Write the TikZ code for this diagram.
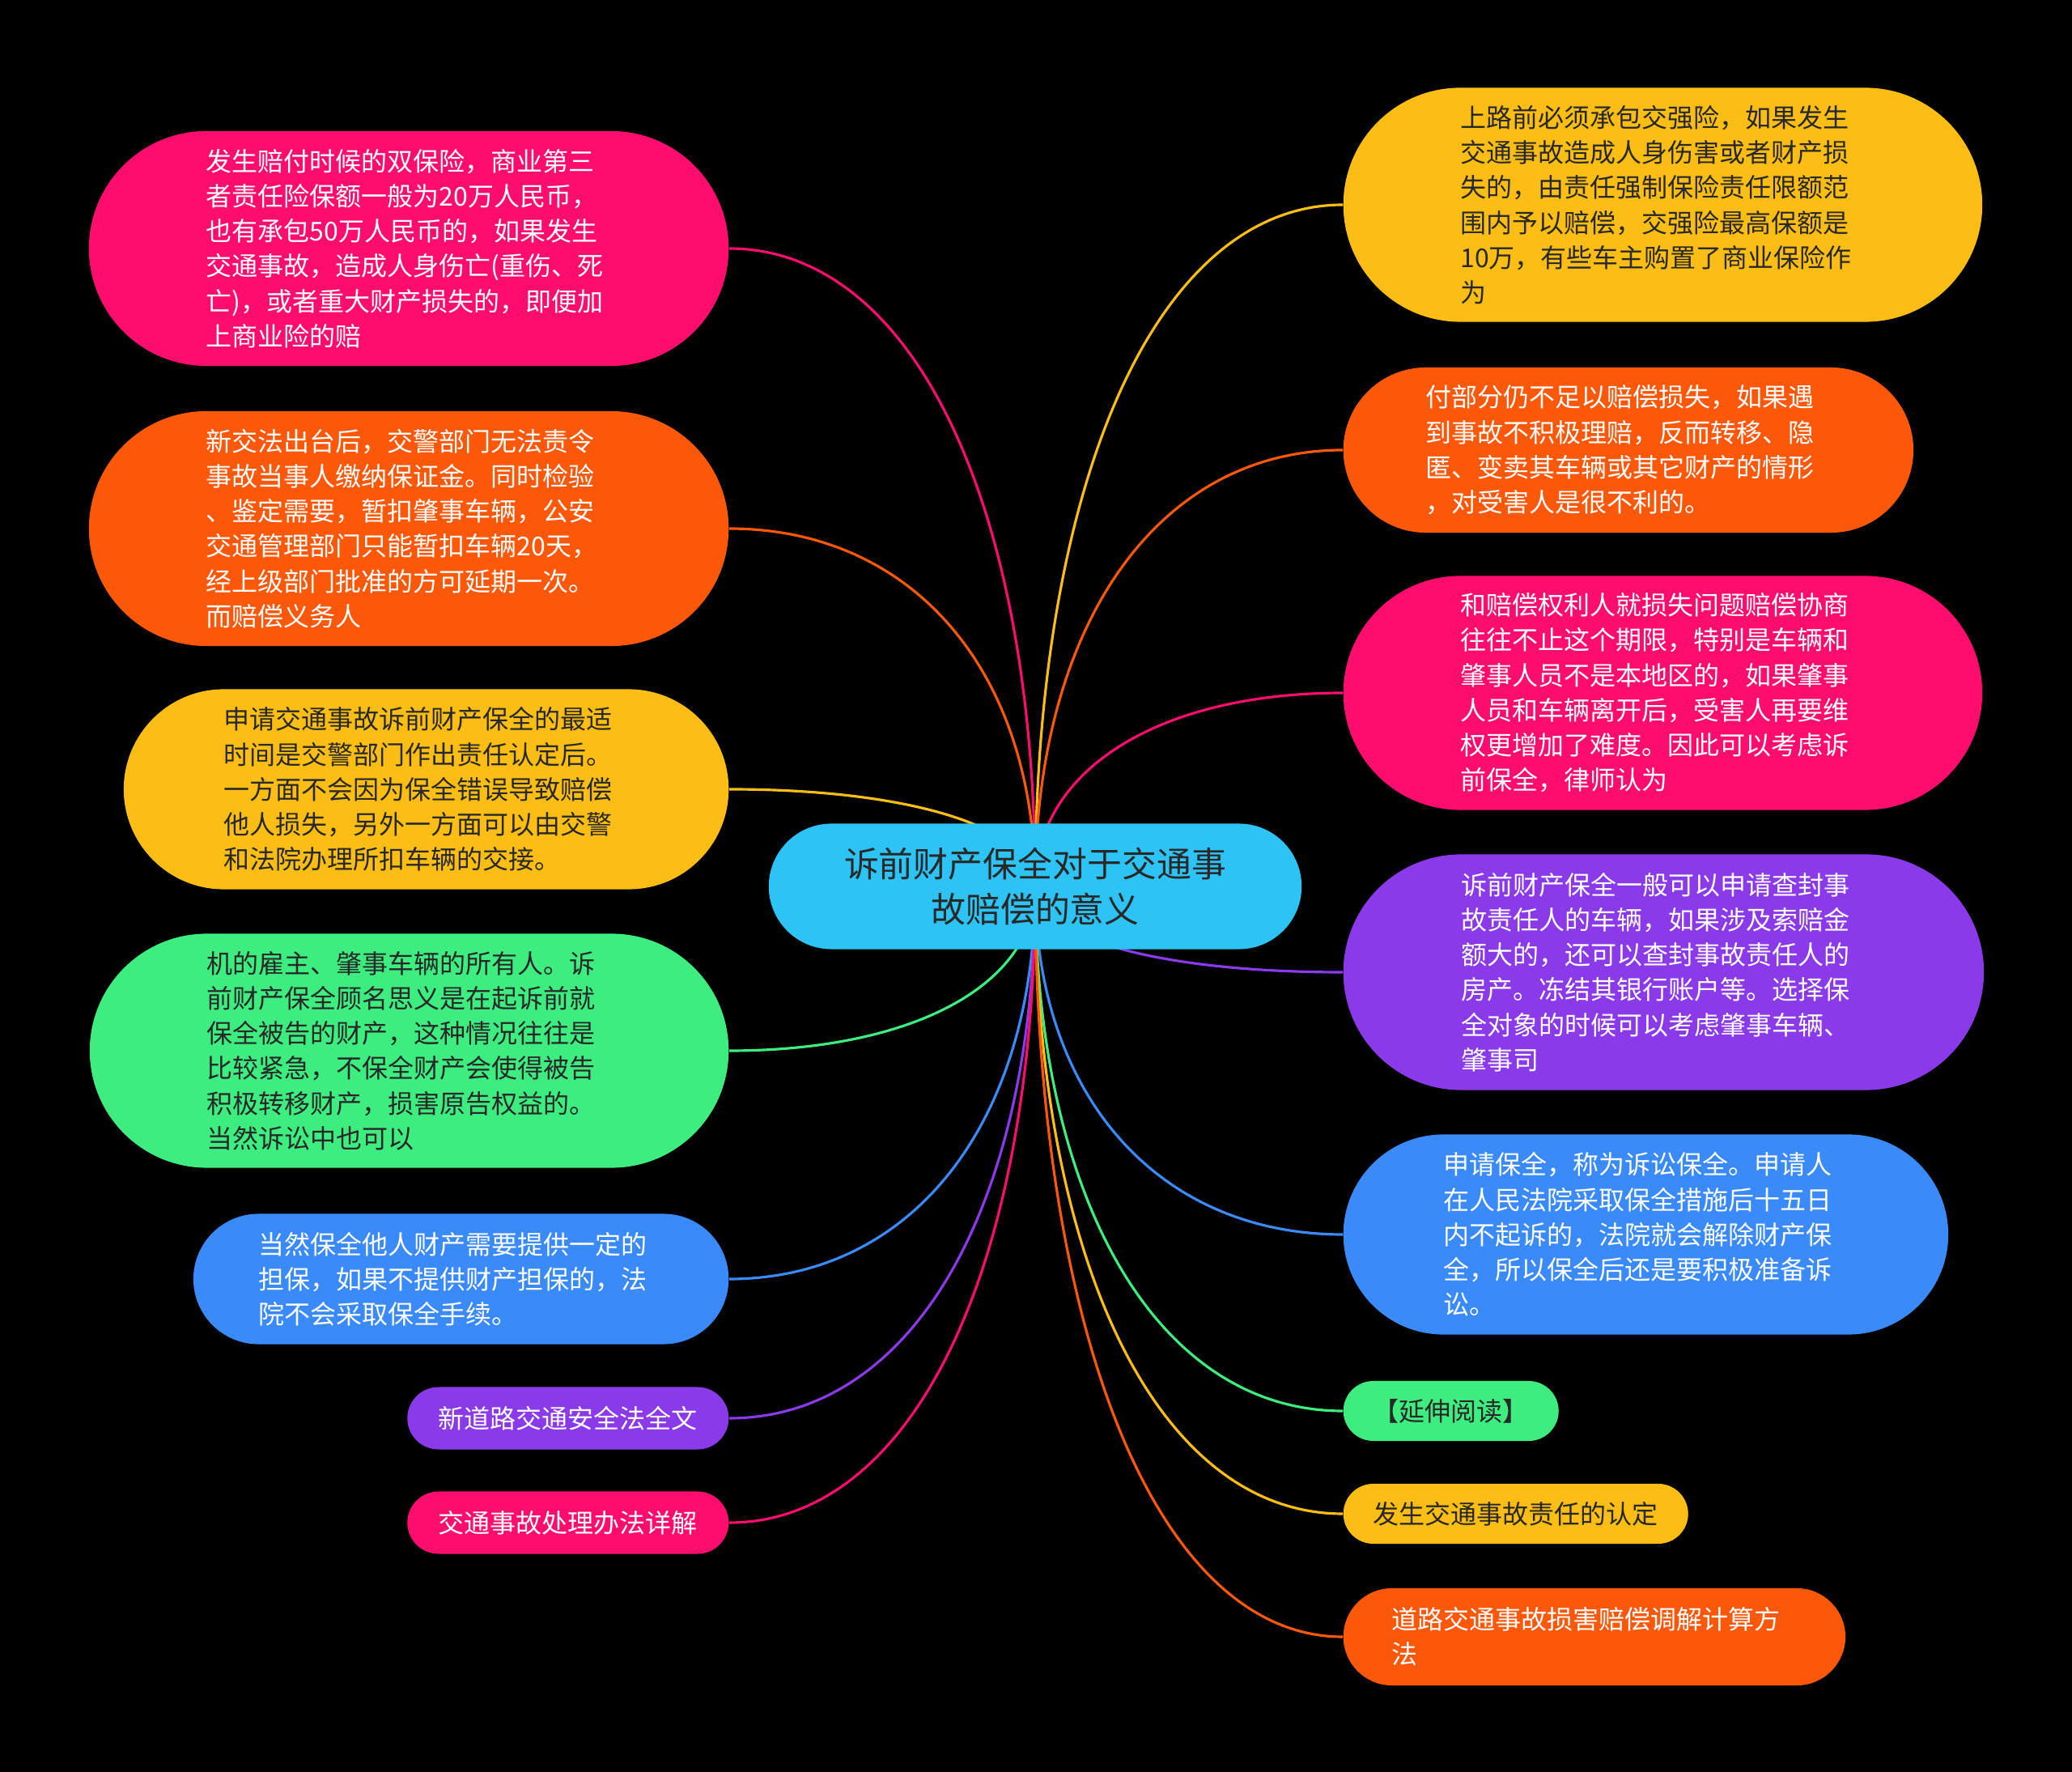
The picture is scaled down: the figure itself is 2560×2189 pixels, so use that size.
\documentclass[tikz,border=0pt]{standalone}
\usepackage{fontspec}
\newfontfamily\cjk{Noto Sans CJK SC}
\usetikzlibrary{calc,positioning}
\definecolor{mPink}{RGB}{252,13,110}
\definecolor{mOrange}{RGB}{252,88,10}
\definecolor{mYellow}{RGB}{252,190,20}
\definecolor{mGreen}{RGB}{62,237,128}
\definecolor{mBlue}{RGB}{58,138,250}
\definecolor{mPurple}{RGB}{138,58,232}
\definecolor{mCyan}{RGB}{45,196,245}
\definecolor{txtdark}{RGB}{40,40,40}
\pgfdeclarelayer{bg}
\pgfdeclarelayer{wires}
\pgfsetlayers{bg,wires,main}
\newcommand\leaffont{\cjk\fontsize{9.1pt}{12.3pt}\selectfont}
\newcommand\topicfont{\cjk\fontsize{12.2pt}{15.8pt}\selectfont}
\tikzset{
  leaf/.style={rectangle, align=left, inner ysep=0pt, font=\leaffont},
  pill/.style 2 args={minimum height=#1cm, rounded corners=#2cm, inner xsep=#2cm},
  wide/.style={text width=5cm},
  link/.style={line width=0.9pt},
}

\begin{document}
\begin{tikzpicture}[x=0.01cm, y=-0.01cm]
    \useasboundingbox (0,0) rectangle (2560,2189);
    \begin{pgfonlayer}{bg}
      \fill[black] (0,0) rectangle (2560,2189);
    \end{pgfonlayer}
    % Central topic
    \node[rectangle, fill=mCyan, text=txtdark, font=\topicfont, align=center,
          minimum width=6.58cm, minimum height=1.55cm, rounded corners=0.775cm] (topic)
          at (1279,1095) {诉前财产保全对于交通事\\故赔偿的意义};
    % Left branches
    \node[leaf, wide, pill={2.9}{1.45}, fill=mPink, text=white, anchor=east] (L1) at (901,307)
      {发生赔付时候的双保险，商业第三\\者责任险保额一般为20万人民币，\\也有承包50万人民币的，如果发生\\交通事故，造成人身伤亡(重伤、死\\亡)，或者重大财产损失的，即便加\\上商业险的赔};
    \node[leaf, wide, pill={2.9}{1.45}, fill=mOrange, text=white, anchor=east] (L2) at (901,653)
      {新交法出台后，交警部门无法责令\\事故当事人缴纳保证金。同时检验\\、鉴定需要，暂扣肇事车辆，公安\\交通管理部门只能暂扣车辆20天，\\经上级部门批准的方可延期一次。\\而赔偿义务人};
    \node[leaf, wide, pill={2.47}{1.235}, fill=mYellow, text=txtdark, anchor=east] (L3) at (901,975)
      {申请交通事故诉前财产保全的最适\\时间是交警部门作出责任认定后。\\一方面不会因为保全错误导致赔偿\\他人损失，另外一方面可以由交警\\和法院办理所扣车辆的交接。};
    \node[leaf, wide, pill={2.89}{1.445}, fill=mGreen, text=txtdark, anchor=east] (L4) at (901,1298)
      {机的雇主、肇事车辆的所有人。诉\\前财产保全顾名思义是在起诉前就\\保全被告的财产，这种情况往往是\\比较紧急，不保全财产会使得被告\\积极转移财产，损害原告权益的。\\当然诉讼中也可以};
    \node[leaf, wide, pill={1.61}{0.805}, fill=mBlue, text=white, anchor=east] (L5) at (901,1580)
      {当然保全他人财产需要提供一定的\\担保，如果不提供财产担保的，法\\院不会采取保全手续。};
    \node[leaf, pill={0.77}{0.385}, fill=mPurple, text=white, anchor=east] (L6) at (901,1752)
      {新道路交通安全法全文};
    \node[leaf, pill={0.77}{0.385}, fill=mPink, text=white, anchor=east] (L7) at (901,1881)
      {交通事故处理办法详解};
    % Right branches
    \node[leaf, wide, pill={2.89}{1.445}, fill=mYellow, text=txtdark, anchor=west] (R1) at (1659,253)
      {上路前必须承包交强险，如果发生\\交通事故造成人身伤害或者财产损\\失的，由责任强制保险责任限额范\\围内予以赔偿，交强险最高保额是\\10万，有些车主购置了商业保险作\\为};
    \node[leaf, wide, pill={2.04}{1.02}, fill=mOrange, text=white, anchor=west] (R2) at (1659,556)
      {付部分仍不足以赔偿损失，如果遇\\到事故不积极理赔，反而转移、隐\\匿、变卖其车辆或其它财产的情形\\，对受害人是很不利的。};
    \node[leaf, wide, pill={2.89}{1.445}, fill=mPink, text=white, anchor=west] (R3) at (1659,856)
      {和赔偿权利人就损失问题赔偿协商\\往往不止这个期限，特别是车辆和\\肇事人员不是本地区的，如果肇事\\人员和车辆离开后，受害人再要维\\权更增加了难度。因此可以考虑诉\\前保全，律师认为};
    \node[leaf, wide, pill={2.91}{1.455}, fill=mPurple, text=white, anchor=west] (R4) at (1659,1201)
      {诉前财产保全一般可以申请查封事\\故责任人的车辆，如果涉及索赔金\\额大的，还可以查封事故责任人的\\房产。冻结其银行账户等。选择保\\全对象的时候可以考虑肇事车辆、\\肇事司};
    \node[leaf, wide, pill={2.47}{1.235}, fill=mBlue, text=white, anchor=west] (R5) at (1659,1525)
      {申请保全，称为诉讼保全。申请人\\在人民法院采取保全措施后十五日\\内不起诉的，法院就会解除财产保\\全，所以保全后还是要积极准备诉\\讼。};
    \node[leaf, pill={0.74}{0.37}, fill=mGreen, text=txtdark, anchor=west] (R6) at (1659,1743)
      {【延伸阅读】};
    \node[leaf, pill={0.74}{0.37}, fill=mYellow, text=txtdark, anchor=west] (R7) at (1659,1870)
      {发生交通事故责任的认定};
    \node[leaf, wide, pill={1.2}{0.6}, fill=mOrange, text=white, anchor=west] (R8) at (1659,2022)
      {道路交通事故损害赔偿调解计算方\\法};
    % Connectors, under the nodes
    \begin{pgfonlayer}{wires}
      \foreach \n/\c in {L1/mPink, L2/mOrange, L3/mYellow, L4/mGreen, L5/mBlue, L6/mPurple, L7/mPink} {
        \draw[link, \c] (topic.center) .. controls ($(topic.center)!0.6!(topic.center |- \n.east)$)
          and ($(\n.east)!0.6!(topic.center |- \n.east)$) .. (\n.east);
      }
      \foreach \n/\c in {R1/mYellow, R2/mOrange, R3/mPink, R4/mPurple, R5/mBlue, R6/mGreen, R7/mYellow, R8/mOrange} {
        \draw[link, \c] (topic.center) .. controls ($(topic.center)!0.6!(topic.center |- \n.west)$)
          and ($(\n.west)!0.6!(topic.center |- \n.west)$) .. (\n.west);
      }
    \end{pgfonlayer}
  \end{tikzpicture}
\end{document}
